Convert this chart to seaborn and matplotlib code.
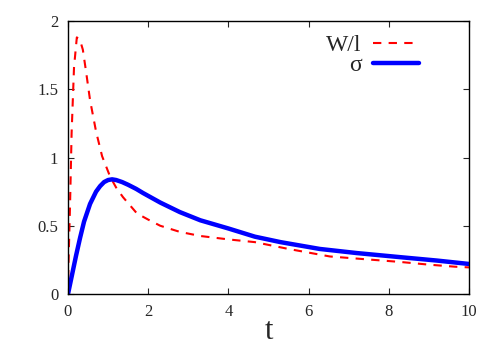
import matplotlib
matplotlib.use("Agg")
import matplotlib.pyplot as plt
import seaborn as sns
import pandas as pd

sns.set_style("ticks")
plt.rcParams['font.family'] = ['Liberation Serif', 'DejaVu Serif']

# W/l (red dashed)
t_w = [0.0, 0.01, 0.05, 0.09, 0.15, 0.22, 0.3, 0.37, 0.45, 0.55, 0.7, 0.85, 1.05, 1.2, 1.37,
       1.72, 2.0, 2.3, 2.79, 3.3, 4.0, 4.66, 5.5, 6.53, 7.4, 8.28, 9.0, 9.65, 10.0]
w_l = [0.0, 0.2, 0.64, 1.18, 1.66, 1.88, 1.86, 1.79, 1.63, 1.42, 1.19, 1.01, 0.86, 0.78, 0.71,
       0.59, 0.545, 0.5, 0.455, 0.425, 0.40, 0.38, 0.33, 0.275, 0.255, 0.235, 0.215, 0.20, 0.195]

# sigma (blue solid)
t_s = [0.0, 0.05, 0.1, 0.2, 0.3, 0.4, 0.55, 0.7, 0.8, 0.9, 1.0, 1.1, 1.2, 1.35, 1.5, 1.7, 1.87,
       2.3, 2.79, 3.3, 4.0, 4.66, 5.3, 6.28, 7.2, 8.28, 9.2, 10.0]
sigma = [0.0, 0.07, 0.14, 0.28, 0.41, 0.53, 0.66, 0.75, 0.79, 0.82, 0.835, 0.84, 0.835, 0.82, 0.80,
         0.77, 0.74, 0.67, 0.60, 0.54, 0.48, 0.42, 0.38, 0.33, 0.30, 0.27, 0.245, 0.22]

xticks = [0, 2, 4, 6, 8, 10]
yticks = [0, 0.5, 1, 1.5, 2]
ytick_labels = ["0", "0.5", "1", "1.5", "2"]

df_w = pd.DataFrame({"t": t_w, "v": w_l})
df_s = pd.DataFrame({"t": t_s, "v": sigma})

fig = plt.figure(figsize=(5, 3.5), dpi=100)
ax = fig.add_axes([0.136, 0.16, 0.802, 0.78])

sns.lineplot(data=df_w, x="t", y="v", ax=ax, color="#ff0000", lw=1.5,
             dashes=False, label="W/l")
ax.lines[-1].set_dashes((4, 3.5))
sns.lineplot(data=df_s, x="t", y="v", ax=ax, color="#0000ff", lw=3.2, label="σ")
for ln in ax.lines:
    ln.set_solid_joinstyle("round")
    ln.set_dash_joinstyle("round")

ax.set_xlim(0, 10)
ax.set_ylim(0, 2)
ax.set_xticks(xticks)
ax.set_xticklabels([str(x) for x in xticks])
ax.set_yticks(yticks)
ax.set_yticklabels(ytick_labels)
ax.tick_params(direction="in", top=True, right=True, length=4, width=0.8,
               labelsize=12, pad=7)
ax.set_xlabel("t", fontsize=22, labelpad=-2)
ax.set_ylabel("")
for s in ax.spines.values():
    s.set_linewidth(1.0)
    s.set_color("black")

leg = ax.legend(loc="upper right", frameon=False, markerfirst=False, fontsize=17,
                handlelength=1.95, handletextpad=0.5, labelspacing=-0.05,
                bbox_to_anchor=(0.9, 0.985), borderaxespad=0)

fig.savefig("out.png", dpi=100)
